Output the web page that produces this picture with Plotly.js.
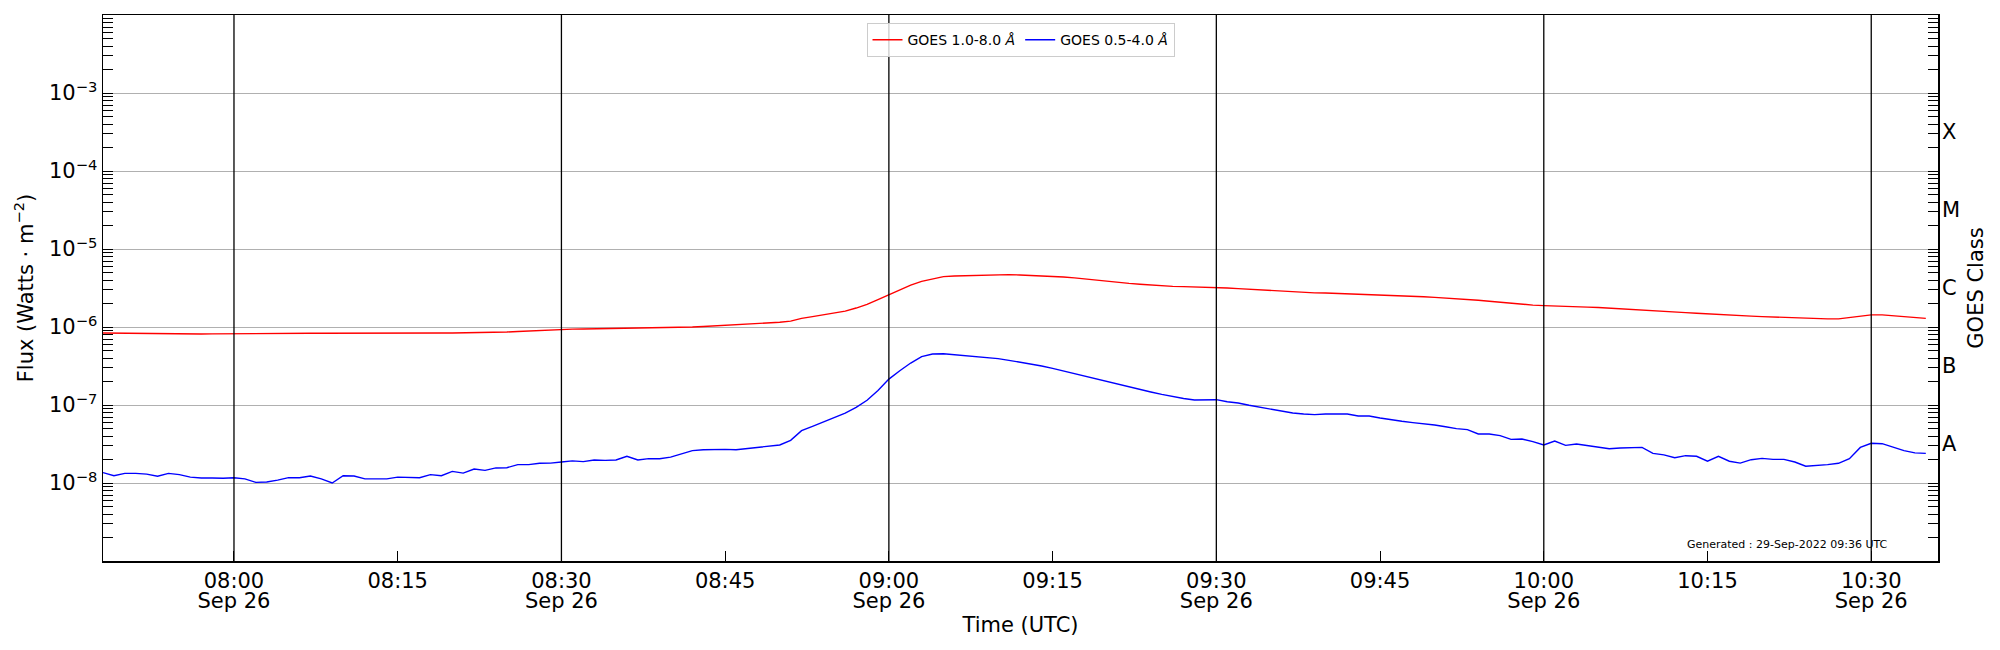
<!DOCTYPE html>
<html>
<head>
<meta charset="utf-8">
<script src="https://cdn.plot.ly/plotly-3.0.1.min.js"></script>
<style>html,body{margin:0;padding:0;background:#fff}#chart{width:2000px;height:650px}</style>
</head>
<body>
<div id="chart"></div>
<script>
const day = '2022-09-26';

const times = [
'07:48','07:49','07:50','07:51','07:52','07:53','07:54','07:55','07:56','07:57','07:58','07:59',
'08:00','08:01','08:02','08:03','08:04','08:05','08:06','08:07','08:08','08:09',
'08:10','08:11','08:12','08:13','08:14','08:15','08:16','08:17','08:18','08:19',
'08:20','08:21','08:22','08:23','08:24','08:25','08:26','08:27','08:28','08:29',
'08:30','08:31','08:32','08:33','08:34','08:35','08:36','08:37','08:38','08:39',
'08:40','08:41','08:42','08:43','08:44','08:45','08:46','08:47','08:48','08:49',
'08:50','08:51','08:52','08:53','08:54','08:55','08:56','08:57','08:58','08:59',
'09:00','09:01','09:02','09:03','09:04','09:05','09:06','09:07','09:08','09:09',
'09:10','09:11','09:12','09:13','09:14','09:15','09:16','09:17','09:18','09:19',
'09:20','09:21','09:22','09:23','09:24','09:25','09:26','09:27','09:28','09:29',
'09:30','09:31','09:32','09:33','09:34','09:35','09:36','09:37','09:38','09:39',
'09:40','09:41','09:42','09:43','09:44','09:45','09:46','09:47','09:48','09:49',
'09:50','09:51','09:52','09:53','09:54','09:55','09:56','09:57','09:58','09:59',
'10:00','10:01','10:02','10:03','10:04','10:05','10:06','10:07','10:08','10:09',
'10:10','10:11','10:12','10:13','10:14','10:15','10:16','10:17','10:18','10:19',
'10:20','10:21','10:22','10:23','10:24','10:25','10:26','10:27','10:28','10:29',
'10:30','10:31','10:32','10:33','10:34','10:35'
];

// GOES 1.0-8.0 A flux (W m^-2)
const fluxLong = [
8.38e-7,8.34e-7,8.30e-7,8.26e-7,8.22e-7,8.18e-7,8.17e-7,8.13e-7,8.13e-7,8.13e-7,8.17e-7,8.20e-7,
8.22e-7,8.22e-7,8.24e-7,8.26e-7,8.28e-7,8.30e-7,8.30e-7,8.31e-7,8.30e-7,8.29e-7,
8.30e-7,8.30e-7,8.30e-7,8.30e-7,8.31e-7,8.30e-7,8.32e-7,8.33e-7,8.34e-7,8.36e-7,
8.38e-7,8.41e-7,8.45e-7,8.49e-7,8.55e-7,8.63e-7,8.75e-7,8.89e-7,9.06e-7,9.20e-7,
9.33e-7,9.38e-7,9.42e-7,9.46e-7,9.51e-7,9.53e-7,9.57e-7,9.64e-7,9.70e-7,9.75e-7,
9.79e-7,9.89e-7,1.00e-6,1.016e-6,1.033e-6,1.050e-6,1.067e-6,1.087e-6,1.104e-6,1.127e-6,
1.148e-6,1.19e-6,1.29e-6,1.36e-6,1.43e-6,1.50e-6,1.60e-6,1.75e-6,1.95e-6,2.24e-6,
2.60e-6,3.01e-6,3.45e-6,3.85e-6,4.17e-6,4.42e-6,4.51e-6,4.55e-6,4.59e-6,4.65e-6,
4.69e-6,4.69e-6,4.65e-6,4.59e-6,4.55e-6,4.47e-6,4.38e-6,4.27e-6,4.12e-6,3.98e-6,
3.85e-6,3.73e-6,3.63e-6,3.54e-6,3.45e-6,3.39e-6,3.32e-6,3.29e-6,3.26e-6,3.24e-6,
3.23e-6,3.16e-6,3.10e-6,3.04e-6,2.98e-6,2.92e-6,2.86e-6,2.81e-6,2.75e-6,2.74e-6,
2.73e-6,2.70e-6,2.67e-6,2.65e-6,2.62e-6,2.60e-6,2.57e-6,2.52e-6,2.47e-6,2.44e-6,
2.40e-6,2.36e-6,2.31e-6,2.25e-6,2.20e-6,2.14e-6,2.07e-6,2.01e-6,1.95e-6,1.91e-6,
1.88e-6,1.85e-6,1.82e-6,1.81e-6,1.80e-6,1.78e-6,1.75e-6,1.73e-6,1.70e-6,1.67e-6,
1.64e-6,1.60e-6,1.56e-6,1.53e-6,1.50e-6,1.47e-6,1.44e-6,1.42e-6,1.40e-6,1.38e-6,
1.36e-6,1.34e-6,1.33e-6,1.31e-6,1.29e-6,1.28e-6,1.27e-6,1.27e-6,1.33e-6,1.38e-6,
1.43e-6,1.43e-6,1.40e-6,1.36e-6,1.32e-6,1.29e-6
];

// GOES 0.5-4.0 A flux (W m^-2)
const fluxShort = [
1.36e-8,1.24e-8,1.33e-8,1.33e-8,1.30e-8,1.22e-8,1.33e-8,1.28e-8,1.19e-8,1.16e-8,1.16e-8,1.15e-8,
1.17e-8,1.13e-8,1.02e-8,1.03e-8,1.09e-8,1.17e-8,1.17e-8,1.23e-8,1.13e-8,1.00e-8,
1.24e-8,1.23e-8,1.13e-8,1.14e-8,1.13e-8,1.19e-8,1.19e-8,1.17e-8,1.28e-8,1.24e-8,
1.41e-8,1.34e-8,1.51e-8,1.45e-8,1.56e-8,1.57e-8,1.72e-8,1.72e-8,1.79e-8,1.80e-8,
1.86e-8,1.92e-8,1.88e-8,1.97e-8,1.95e-8,1.97e-8,2.20e-8,1.97e-8,2.05e-8,2.05e-8,
2.15e-8,2.38e-8,2.60e-8,2.67e-8,2.70e-8,2.70e-8,2.67e-8,2.75e-8,2.86e-8,2.98e-8,
3.07e-8,3.52e-8,4.69e-8,5.32e-8,6.11e-8,6.95e-8,7.89e-8,9.33e-8,1.15e-7,1.53e-7,
2.15e-7,2.75e-7,3.45e-7,4.17e-7,4.51e-7,4.55e-7,4.42e-7,4.21e-7,4.12e-7,4.05e-7,
3.93e-7,3.74e-7,3.56e-7,3.36e-7,3.16e-7,2.95e-7,2.73e-7,2.52e-7,2.33e-7,2.15e-7,
1.97e-7,1.82e-7,1.68e-7,1.57e-7,1.47e-7,1.37e-7,1.28e-7,1.21e-7,1.16e-7,1.17e-7,
1.17e-7,1.10e-7,1.06e-7,9.91e-8,9.33e-8,8.71e-8,8.38e-8,7.89e-8,7.67e-8,7.52e-8,
7.67e-8,7.59e-8,7.67e-8,7.23e-8,7.23e-8,6.81e-8,6.43e-8,6.18e-8,5.94e-8,5.77e-8,
5.55e-8,5.27e-8,4.98e-8,4.83e-8,4.25e-8,4.25e-8,4.05e-8,3.63e-8,3.66e-8,3.39e-8,
3.07e-8,3.45e-8,3.04e-8,3.16e-8,3.04e-8,2.92e-8,2.75e-8,2.81e-8,2.86e-8,2.86e-8,
2.40e-8,2.29e-8,2.11e-8,2.24e-8,2.20e-8,1.90e-8,2.20e-8,1.90e-8,1.80e-8,1.99e-8,
2.07e-8,2.01e-8,2.01e-8,1.86e-8,1.64e-8,1.67e-8,1.72e-8,1.79e-8,2.05e-8,2.86e-8,
3.23e-8,3.19e-8,2.86e-8,2.60e-8,2.43e-8,2.40e-8
];

const seriesNames = ['GOES 1.0-8.0 <i>Å</i>', 'GOES 0.5-4.0 <i>Å</i>'];
const seriesColors = ['#ff0000', '#0000ff'];

const xTickTimes = ['08:00','08:15','08:30','08:45','09:00','09:15','09:30','09:45','10:00','10:15','10:30'];
const xTickLabels = ['08:00','08:15','08:30','08:45','09:00','09:15','09:30','09:45','10:00','10:15','10:30'];
const halfHourLines = ['08:00','08:30','09:00','09:30','10:00','10:30'];
const dateLabels = ['Sep 26','Sep 26','Sep 26','Sep 26','Sep 26','Sep 26'];
const xRange = ['07:48:00','10:36:07'];

const yTickVals = [1e-3, 1e-4, 1e-5, 1e-6, 1e-7, 1e-8];
const yTickLabels = ['10<sup>−3</sup>','10<sup>−4</sup>','10<sup>−5</sup>','10<sup>−6</sup>','10<sup>−7</sup>','10<sup>−8</sup>'];
const yRangeExp = [-9, -2];

const classTickVals = [3.162e-8, 3.162e-7, 3.162e-6, 3.162e-5, 3.162e-4];
const classLabels = ['A', 'B', 'C', 'M', 'X'];

const generatedText = 'Generated : 29-Sep-2022 09:36 UTC';

// minor log ticks (axis decoration)
const minorVals = [];
for (let e = yRangeExp[0]; e < yRangeExp[1]; e++) {
  for (let m = 2; m <= 9; m++) minorVals.push(m * Math.pow(10, e));
}

const ts = t => day + ' ' + t;
const xs = times.map(ts);
const FS = 21;

const traces = [
  {x: xs, y: fluxLong, type: 'scatter', mode: 'lines', name: seriesNames[0],
   line: {color: seriesColors[0], width: 1.4}},
  {x: xs, y: fluxShort, type: 'scatter', mode: 'lines', name: seriesNames[1],
   line: {color: seriesColors[1], width: 1.4}},
  {x: [], y: [], yaxis: 'y2', type: 'scatter', mode: 'lines', showlegend: false, hoverinfo: 'skip'},
  {x: [], y: [], xaxis: 'x2', type: 'scatter', mode: 'lines', showlegend: false, hoverinfo: 'skip'}
];

const shapes = halfHourLines.map(t => ({
  type: 'line', xref: 'x', yref: 'paper', x0: ts(t), x1: ts(t), y0: 0, y1: 1,
  line: {color: '#000000', width: 1.3}, layer: 'above'
}));

const layout = {
  width: 2000, height: 650,
  margin: {l: 103, r: 62, t: 15, b: 89, pad: 0},
  paper_bgcolor: '#ffffff', plot_bgcolor: '#ffffff',
  font: {family: 'DejaVu Sans', color: '#000000', size: FS},
  showlegend: true,
  legend: {orientation: 'h', x: 0.5, xanchor: 'center', y: 0.985, yanchor: 'top',
           bordercolor: '#cccccc', borderwidth: 1, bgcolor: 'rgba(255,255,255,0.8)',
           font: {size: 14, family: 'DejaVu Sans'}},
  xaxis: {
    type: 'date', range: [ts(xRange[0]), ts(xRange[1])],
    tickmode: 'array', tickvals: xTickTimes.map(ts), ticktext: xTickLabels,
    ticks: 'inside', ticklen: 10, tickwidth: 1, tickcolor: '#000',
    showgrid: false, zeroline: false,
    showline: true, linecolor: '#000', linewidth: 1.5, mirror: true,
    tickfont: {size: FS},
    title: {text: 'Time (UTC)', font: {size: FS}, standoff: 25},
    automargin: false
  },
  xaxis2: {
    type: 'date', range: [ts(xRange[0]), ts(xRange[1])], overlaying: 'x', side: 'bottom',
    tickmode: 'array', tickvals: halfHourLines.map(ts), ticktext: dateLabels,
    ticks: '', showgrid: false, showline: false, zeroline: false,
    ticklabelstandoff: 25,
    tickfont: {size: FS},
    automargin: false
  },
  yaxis: {
    type: 'log', range: yRangeExp,
    tickmode: 'array', tickvals: yTickVals, ticktext: yTickLabels,
    ticks: 'inside', ticklen: 10, tickwidth: 1, tickcolor: '#000',
    showgrid: true, gridcolor: '#b0b0b0', gridwidth: 1,
    showline: true, linecolor: '#000', linewidth: 1.5, mirror: 'allticks',
    zeroline: false,
    minor: {tickmode: 'array', tickvals: minorVals, ticks: 'inside', ticklen: 6,
            tickwidth: 1, tickcolor: '#000', showgrid: false},
    tickfont: {size: FS},
    title: {text: 'Flux (Watts · m<sup>−2</sup>)', font: {size: FS}, standoff: 9},
    automargin: false
  },
  yaxis2: {
    type: 'log', range: yRangeExp, overlaying: 'y', side: 'right',
    tickmode: 'array', tickvals: classTickVals, ticktext: classLabels,
    ticks: '', showgrid: false, showline: false, zeroline: false,
    ticklabelstandoff: 3,
    tickfont: {size: FS},
    title: {text: 'GOES Class', font: {size: FS}, standoff: 9},
    automargin: false
  },
  shapes: shapes,
  annotations: [{
    text: generatedText, xref: 'paper', yref: 'paper', x: 0.974, y: 0.031,
    xanchor: 'right', yanchor: 'middle', showarrow: false,
    font: {size: 11, family: 'DejaVu Sans', color: '#000'}
  }],
  hovermode: false
};

Plotly.newPlot('chart', traces, layout, {staticPlot: true, displayModeBar: false});
</script>
</body>
</html>
